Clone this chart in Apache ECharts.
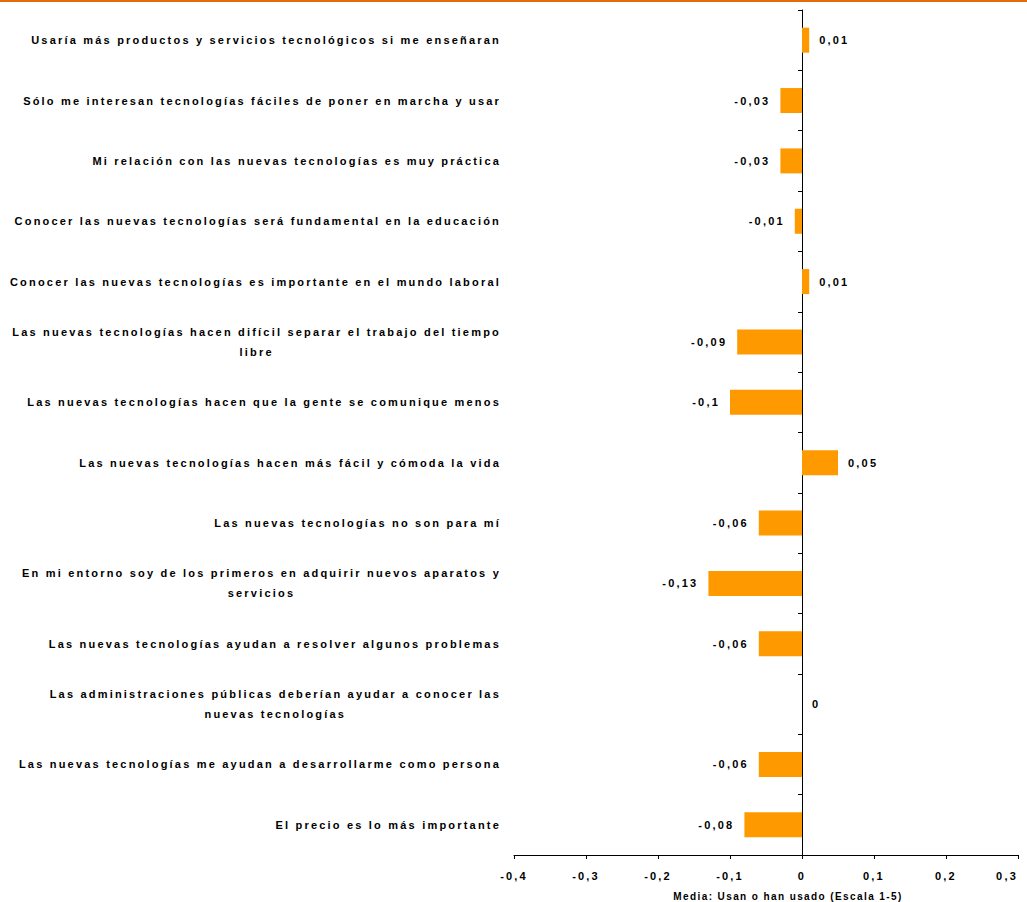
<!DOCTYPE html>
<html>
<head>
<meta charset="utf-8">
<script src="https://cdn.jsdelivr.net/npm/echarts@6/dist/echarts.min.js"></script>
<style>
  html, body { margin: 0; padding: 0; background: #fff; }
  #main { width: 1027px; height: 902px; }
  #main svg text { letter-spacing: 2.2px; }
  #main svg text[style*="10px"] { letter-spacing: 1.4px; }
</style>
</head>
<body>
<div id="main"></div>
<script>
const categories = [
  'Usaría más productos y servicios tecnológicos si me enseñaran',
  'Sólo me interesan tecnologías fáciles de poner en marcha y usar',
  'Mi relación con las nuevas tecnologías es muy práctica',
  'Conocer las nuevas tecnologías será fundamental en la educación',
  'Conocer las nuevas tecnologías es importante en el mundo laboral',
  'Las nuevas tecnologías hacen difícil separar el trabajo del tiempo\nlibre',
  'Las nuevas tecnologías hacen que la gente se comunique menos',
  'Las nuevas tecnologías hacen más fácil y cómoda la vida',
  'Las nuevas tecnologías no son para mí',
  'En mi entorno soy de los primeros en adquirir nuevos aparatos y\nservicios',
  'Las nuevas tecnologías ayudan a resolver algunos problemas',
  'Las administraciones públicas deberían ayudar a conocer las\nnuevas tecnologías',
  'Las nuevas tecnologías me ayudan a desarrollarme como persona',
  'El precio es lo más importante'
];
const values = [0.01, -0.03, -0.03, -0.01, 0.01, -0.09, -0.1, 0.05, -0.06, -0.13, -0.06, 0, -0.06, -0.08];
const xMin = -0.4, xMax = 0.3, xStep = 0.1;
const axisTitle = 'Media: Usan o han usado (Escala 1-5)';

const FONT = "'Liberation Sans', Arial, sans-serif";
const fmt = v => (Math.abs(v) < 1e-9 ? '0' : String(Math.round(v * 100) / 100).replace('.', ','));

// measurement that accounts for the letter-spacing applied by CSS to SVG text
const mc = document.createElement('canvas').getContext('2d');
try {
  echarts.setPlatformAPI({
    measureText(text, font) {
      mc.font = font || '12px sans-serif';
      const m = mc.measureText(text);
      const ls = /(^|\D)10px/.test(font || '') ? 1.4 : 2.2;
      return {
        width: m.width + String(text).length * ls,
        actualBoundingBoxAscent: m.actualBoundingBoxAscent,
        actualBoundingBoxDescent: m.actualBoundingBoxDescent,
        actualBoundingBoxLeft: m.actualBoundingBoxLeft,
        actualBoundingBoxRight: m.actualBoundingBoxRight,
        fontBoundingBoxAscent: m.fontBoundingBoxAscent,
        fontBoundingBoxDescent: m.fontBoundingBoxDescent
      };
    }
  });
} catch (e) {}

const chart = echarts.init(document.getElementById('main'), null, { renderer: 'svg' });

const option = {
  backgroundColor: '#ffffff',
  animation: false,
  graphic: [{
    type: 'rect',
    left: 0, top: 0,
    shape: { width: 1027, height: 2 },
    style: { fill: '#E36C0A' },
    silent: true
  }],
  grid: { left: 514, right: 9, top: 10, bottom: 47, containLabel: false, outerBoundsMode: 'none' },
  xAxis: {
    type: 'value',
    min: xMin, max: xMax, interval: xStep,
    axisLine: { show: true, onZero: false, lineStyle: { color: '#000', width: 1 } },
    axisTick: { show: true, length: 4, lineStyle: { color: '#000' } },
    splitLine: { show: false },
    axisLabel: {
      formatter: fmt, margin: 14,
      alignMaxLabel: 'right',
      fontFamily: FONT, fontSize: 11, fontWeight: 'bold', color: '#000'
    },
    name: axisTitle,
    nameLocation: 'middle',
    nameGap: 36,
    nameTextStyle: { fontFamily: FONT, fontSize: 10, fontWeight: 'bold', color: '#000', padding: [0, 0, 0, 44] }
  },
  yAxis: [{
    type: 'category',
    data: categories,
    inverse: true,
    position: 'left',
    axisLine: { show: false, onZero: false },
    axisTick: { show: false },
    axisLabel: {
      margin: 13,
      formatter: v => v.split('\n').map(s => '{c|' + s + '}').join('\n'),
      rich: {
        c: { align: 'center', fontFamily: FONT, fontSize: 11, fontWeight: 'bold', color: '#000', lineHeight: 20 }
      }
    }
  }, {
    type: 'category',
    data: categories,
    inverse: true,
    position: 'right',
    axisLine: { show: true, onZero: true, lineStyle: { color: '#000', width: 1 } },
    axisTick: { show: true, inside: true, length: 4, lineStyle: { color: '#000' } },
    axisLabel: { show: false }
  }],
  series: [{
    type: 'bar',
    yAxisIndex: 0,
    barWidth: 25,
    itemStyle: { color: '#FF9900' },
    data: values.map(v => ({ value: v, label: { position: v < 0 ? 'left' : 'right' } })),
    label: {
      show: true,
      distance: 10,
      formatter: p => fmt(p.value),
      fontFamily: FONT, fontSize: 11, fontWeight: 'bold', color: '#000'
    }
  }]
};
chart.setOption(option);
</script>
</body>
</html>
